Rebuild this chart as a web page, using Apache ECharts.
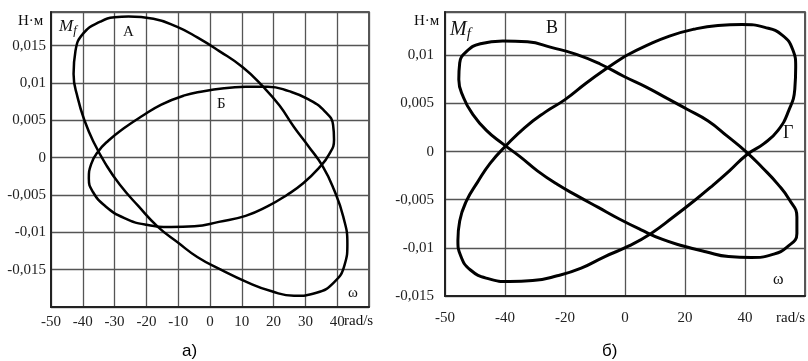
<!DOCTYPE html>
<html>
<head>
<meta charset="utf-8">
<script src="https://cdn.jsdelivr.net/npm/echarts@6/dist/echarts.min.js"></script>
<style>
  html, body { margin: 0; padding: 0; background: #fff; }
  #chart { width: 808px; height: 361px; }
</style>
</head>
<body>
<div id="chart"></div>
<script>
// panel a) tick labels
const xTicksA = [-50, -40, -30, -20, -10, 0, 10, 20, 30, 40, 50];
const xLabelsA = ['-50', '-40', '-30', '-20', '-10', '0', '10', '20', '30', '40', ''];
const yTicksA = [-0.02, -0.015, -0.01, -0.005, 0, 0.005, 0.01, 0.015];
const yLabelsA = ['', '-0,015', '-0,01', '-0,005', '0', '0,005', '0,01', '0,015'];

// panel б) tick labels (left edge is labelled -50 in the original)
const xTicksB = [-60, -40, -20, 0, 20, 40, 60];
const xLabelsB = ['-50', '-40', '-20', '0', '20', '40', ''];
const yTicksB = [-0.015, -0.01, -0.005, 0, 0.005, 0.01];
const yLabelsB = ['-0,015', '-0,01', '-0,005', '0', '0,005', '0,01'];

// loop A (panel a), read clockwise from the top
const curveA = [
  [-25.6, 0.0189], [-17.8, 0.0186], [-10.3, 0.0175], [-4, 0.0161], [2.8, 0.0143],
  [10.3, 0.0121], [16.7, 0.0095], [21.8, 0.007], [26.4, 0.0041], [31, 0.0015],
  [35.5, -0.0012], [39, -0.0043], [41.9, -0.0079], [43.2, -0.0115], [42.3, -0.0144],
  [39, -0.0167], [33.5, -0.0181], [26.4, -0.0185], [19.4, -0.0179], [11.8, -0.0167],
  [3.4, -0.015], [-4, -0.0133], [-10, -0.0114], [-16.3, -0.0093], [-22.5, -0.0065],
  [-28.4, -0.0036], [-32.9, -0.0008], [-36.5, 0.002], [-39.4, 0.0049], [-41.6, 0.008],
  [-42.9, 0.0112], [-42.3, 0.0143], [-39.7, 0.0167], [-34.5, 0.0182], [-30, 0.0188],
  [-25.6, 0.0189]
];
// loop Б (panel a)
const curveB = [
  [11.2, 0.0095], [18.2, 0.0095], [24.8, 0.0089], [31, 0.0078], [36.1, 0.0062],
  [38.7, 0.0044], [39, 0.0024], [37.4, 0.0004], [34.2, -0.0014], [29.4, -0.0034],
  [24.2, -0.005], [18.2, -0.0065], [11.2, -0.0078], [2.8, -0.0086], [-4.9, -0.0092],
  [-12.2, -0.0093], [-20, -0.009], [-26.9, -0.0081], [-32.9, -0.0065], [-36.8, -0.0046],
  [-38.1, -0.0028], [-37.4, -0.0009], [-35.2, 0.0008], [-31.9, 0.0023], [-27.2, 0.0039],
  [-21.6, 0.0055], [-15.3, 0.0071], [-8.3, 0.0083], [-2, 0.0089], [4.5, 0.0093],
  [11.2, 0.0095]
];
// loop В (panel б)
const curveV = [
  [-40.7, 0.0115], [-32.5, 0.0114], [-24.3, 0.0108], [-16.2, 0.0101], [-8.3, 0.0091],
  [-0.3, 0.0078], [7.1, 0.0067], [14.2, 0.0055], [20.7, 0.0044], [27.6, 0.0032],
  [34.1, 0.0016], [40.3, 0], [45.9, -0.0017], [50.7, -0.0033], [54.8, -0.005],
  [57.3, -0.0068], [57.3, -0.0085], [54.1, -0.0099], [49, -0.0107], [42.1, -0.011],
  [34.5, -0.0109], [26.9, -0.0104], [19.4, -0.0098], [12.3, -0.0091], [5.2, -0.0081],
  [-1.9, -0.007], [-8.9, -0.0058], [-15.9, -0.0046], [-22.6, -0.0034], [-29.2, -0.002],
  [-35.1, -0.0005], [-40.7, 0.0008], [-46.2, 0.0022], [-50.8, 0.0039], [-53.8, 0.0056],
  [-55.4, 0.0075], [-55.1, 0.0092], [-52.8, 0.0104], [-48.2, 0.0112], [-40.7, 0.0115]
];
// loop Г (panel б)
const curveG = [
  [0, 0.0099], [7.1, 0.011], [14.8, 0.012], [22.8, 0.0127], [31, 0.0131],
  [39, 0.0132], [46.6, 0.0129], [52.4, 0.0121], [55.9, 0.0106], [56.9, 0.0088],
  [56.6, 0.0065], [54.5, 0.0042], [51, 0.0022], [46.2, 0.0008], [40.7, -0.0003],
  [34.8, -0.002], [29.3, -0.0035], [23.5, -0.005], [16.1, -0.0068], [8.7, -0.0085],
  [1.3, -0.0098], [-6.7, -0.0109], [-14.6, -0.0121], [-22.6, -0.0129], [-30.8, -0.0134],
  [-38.4, -0.0135], [-45.6, -0.0132], [-51.5, -0.0123], [-54.8, -0.0108], [-55.7, -0.0092],
  [-55.1, -0.0072], [-52.8, -0.0051], [-49.2, -0.0032], [-44.9, -0.0012], [-39.7, 0.0006],
  [-33.4, 0.0025], [-26.6, 0.0041], [-20, 0.0054], [-13, 0.0071], [-6.3, 0.0086],
  [0, 0.0099]
];

const serif = 'Liberation Serif';

function pick(ticks, labels) {
  return (v) => {
    const i = ticks.findIndex((t) => Math.abs(t - v) < 1e-9);
    return i < 0 ? '' : labels[i];
  };
}

function axis(gridIndex, min, max, interval, ticks, labels, margin) {
  return {
    type: 'value', gridIndex, min, max, interval,
    axisLine: { show: true, onZero: false, lineStyle: { color: '#222', width: 2 } },
    axisTick: { show: false },
    splitLine: { show: true, lineStyle: { color: '#555', width: 1.3 } },
    axisLabel: {
      margin, color: '#222', fontFamily: serif, fontSize: 15,
      showMinLabel: true, showMaxLabel: true,
      formatter: pick(ticks, labels),
    },
  };
}

function loop(data, xi, width) {
  return {
    type: 'line', xAxisIndex: xi, yAxisIndex: xi, data,
    smooth: 0.5, showSymbol: false, silent: true,
    lineStyle: { color: '#000', width, join: 'round' },
  };
}

function label(text, x, y, size, extra) {
  return {
    type: 'text', left: x, top: y,
    style: Object.assign({ text, fontFamily: serif, fontSize: size, fill: '#111' }, extra || {}),
  };
}

function mf(x, y, size) {
  return {
    type: 'text', left: x, top: y,
    style: {
      text: '{m|M}{f|f}',
      rich: {
        m: { fontFamily: serif, fontStyle: 'italic', fontSize: size, fill: '#111' },
        f: { fontFamily: serif, fontStyle: 'italic', fontSize: size * 0.75, fill: '#111', padding: [size * 0.45, 0, 0, 0] },
      },
    },
  };
}

const chart = echarts.init(document.getElementById('chart'));

chart.setOption({
  animation: false,
  backgroundColor: '#fff',
  grid: [
    { left: 51, top: 12, width: 318, height: 295, show: true, borderColor: '#222', borderWidth: 1.5 },
    { left: 445, top: 12, width: 360, height: 284, show: true, borderColor: '#222', borderWidth: 1.5 },
  ],
  xAxis: [
    axis(0, -50, 50, 10, xTicksA, xLabelsA, 8),
    axis(1, -60, 60, 20, xTicksB, xLabelsB, 15),
  ],
  yAxis: [
    axis(0, -0.02, 0.0195, 0.005, yTicksA, yLabelsA, 5),
    axis(1, -0.015, 0.0145, 0.005, yTicksB, yLabelsB, 11),
  ],
  series: [
    loop(curveA, 0, 2.5),
    loop(curveB, 0, 2.5),
    loop(curveV, 1, 3),
    loop(curveG, 1, 3),
  ],
  graphic: [
    label('Н·м', 18, 14, 15),
    mf(59, 18, 17),
    label('А', 123, 25, 15),
    label('Б', 217, 97, 15),
    label('ω', 348, 286, 15),
    label('rad/s', 344, 314, 15),
    label('Н·м', 414, 14, 15),
    mf(450, 20, 20),
    label('В', 546, 19, 18),
    label('Г', 783, 124, 18),
    label('ω', 773, 272, 16),
    label('rad/s', 776, 311, 15),
    label('а)', 182, 343, 17, { fontFamily: 'Liberation Sans', fill: '#000' }),
    label('б)', 602, 343, 17, { fontFamily: 'Liberation Sans', fill: '#000' }),
  ],
});

window.addEventListener('resize', () => {
  chart.resize();
});
</script>
</body>
</html>
